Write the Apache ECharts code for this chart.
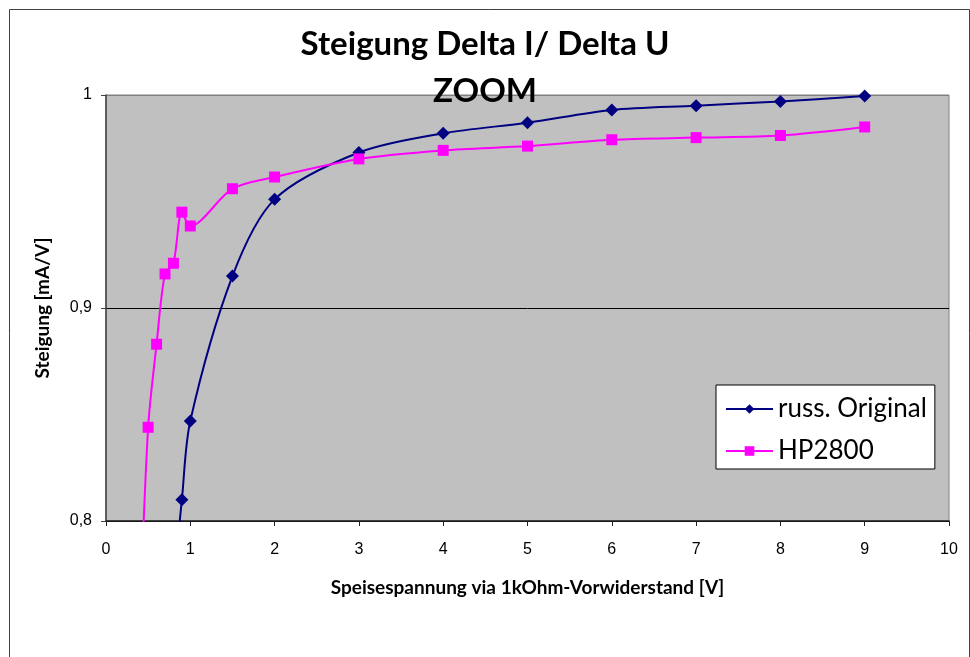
<!DOCTYPE html>
<html>
<head>
<meta charset="utf-8">
<script src="https://cdn.jsdelivr.net/npm/echarts@6/dist/echarts.min.js"></script>
<style>
html,body{margin:0;padding:0;background:#fff;}
#chart{width:970px;height:657px;}
</style>
</head>
<body>
<div id="chart"></div>
<script>
// Data
var seriesNames = ['russ. Original', 'HP2800'];
var xRuss = [0.8, 0.9, 1.0, 1.5, 2, 3, 4, 5, 6, 7, 8, 9];
var yRuss = [0.77, 0.810, 0.847, 0.915, 0.951, 0.973, 0.982, 0.987, 0.993, 0.995, 0.997, 0.9995];
var xHP = [0.4, 0.5, 0.6, 0.7, 0.8, 0.9, 1.0, 1.5, 2, 3, 4, 5, 6, 7, 8, 9];
var yHP = [0.75, 0.844, 0.883, 0.916, 0.921, 0.945, 0.9385, 0.956, 0.9615, 0.970, 0.974, 0.976, 0.979, 0.980, 0.981, 0.985];
var titleText = 'Steigung Delta I/ Delta U\nZOOM';
var xAxisTitle = 'Speisespannung via 1kOhm-Vorwiderstand [V]';
var yAxisTitle = 'Steigung [mA/V]';

function pairs(xs, ys) { return xs.map(function (x, i) { return [x, ys[i]]; }); }

var chart = echarts.init(document.getElementById('chart'), null, {renderer: 'canvas'});
chart.setOption({
  animation: false,
  backgroundColor: '#ffffff',
  graphic: [{
    type: 'rect', left: 7, top: 7, z: -10,
    shape: {width: 960, height: 660},
    style: {fill: 'none', stroke: '#404040', lineWidth: 1}
  }],
  title: {
    text: titleText,
    left: 'center',
    top: 16,
    textStyle: {fontFamily: 'Lato', fontWeight: 'bold', fontSize: 33, lineHeight: 47, color: '#000'}
  },
  grid: {
    left: 106, right: 21, top: 95, bottom: 136,
    show: true, backgroundColor: '#C0C0C0', borderColor: '#808080', borderWidth: 1
  },
  legend: {
    orient: 'vertical',
    left: 716, top: 385,
    backgroundColor: '#ffffff',
    borderColor: '#000', borderWidth: 1,
    padding: [11, 8, 5, 9],
    itemWidth: 47, itemHeight: 12, itemGap: 16,
    textStyle: {fontFamily: 'Lato', fontSize: 26, color: '#000', lineHeight: 26},
    data: seriesNames
  },
  xAxis: {
    type: 'value', min: 0, max: 10, interval: 1,
    name: xAxisTitle, nameLocation: 'middle', nameGap: 57,
    nameTextStyle: {fontFamily: 'Lato', fontWeight: 'bold', fontSize: 19, color: '#000'},
    axisLine: {show: true, onZero: false, lineStyle: {color: '#202020', width: 1.5}},
    axisTick: {show: true, inside: false, length: 5, lineStyle: {color: '#202020'}},
    axisLabel: {fontFamily: 'Liberation Sans', fontSize: 16, color: '#000', margin: 21},
    splitLine: {show: false}
  },
  yAxis: {
    type: 'value', min: 0.8, max: 1, interval: 0.1,
    name: yAxisTitle, nameLocation: 'middle', nameGap: 54,
    nameTextStyle: {fontFamily: 'Lato', fontWeight: 'bold', fontSize: 19, color: '#000'},
    axisLine: {show: true, lineStyle: {color: '#404040', width: 1.5}},
    axisTick: {show: true, inside: false, length: 5, lineStyle: {color: '#404040'}},
    axisLabel: {
      fontFamily: 'Liberation Sans', fontSize: 16, color: '#000', margin: 14,
      formatter: function (v) { return String(Math.round(v * 10) / 10).replace('.', ','); }
    },
    splitLine: {show: true, lineStyle: {color: ['#000', '#000', '#808080'], width: 1}}
  },
  series: [{
    name: seriesNames[0], type: 'line', data: pairs(xRuss, yRuss),
    smooth: 0.3, clip: true,
    symbol: 'diamond', symbolSize: 13,
    lineStyle: {color: '#000080', width: 2},
    itemStyle: {color: '#000080'}
  }, {
    name: seriesNames[1], type: 'line', data: pairs(xHP, yHP),
    smooth: 0.3, clip: true,
    symbol: 'rect', symbolSize: 11,
    lineStyle: {color: '#FF00FF', width: 2},
    itemStyle: {color: '#FF00FF'}
  }]
});
</script>
</body>
</html>
